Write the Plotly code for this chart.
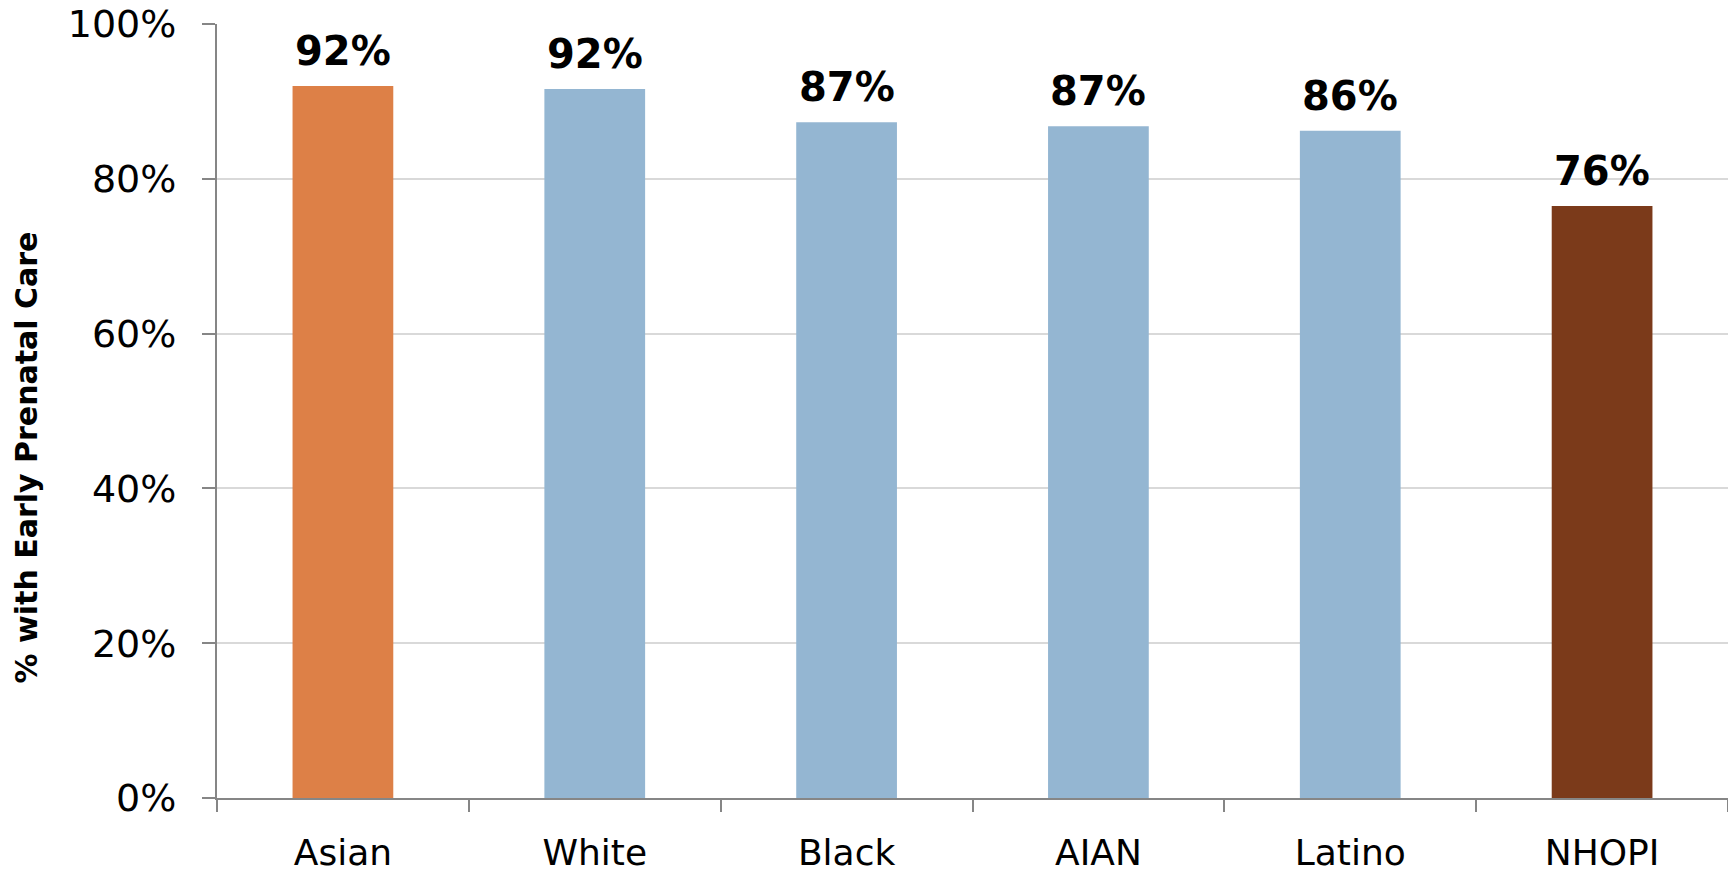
import plotly.graph_objects as go

categories = ["Asian", "White", "Black", "AIAN", "Latino", "NHOPI"]
values = [92.0, 91.6, 87.3, 86.8, 86.2, 76.5]
labels = ["92%", "92%", "87%", "87%", "86%", "76%"]
colors = ["#DD8047", "#94B6D2", "#94B6D2", "#94B6D2", "#94B6D2", "#7B3A1A"]
y_ticks = [0, 20, 40, 60, 80, 100]
y_ticktext = ["0%", "20%", "40%", "60%", "80%", "100%"]
y_title = "% with Early Prenatal Care"

font_family = "'DejaVu Sans', sans-serif"

fig = go.Figure()
fig.add_trace(go.Bar(
    x=categories, y=values,
    marker=dict(color=colors, line=dict(width=0)),
    hoverinfo="skip",
))

for c, v, t in zip(categories, values, labels):
    fig.add_annotation(
        x=c, y=v, text="<b>" + t + "</b>", showarrow=False,
        yanchor="bottom", yshift=10,
        font=dict(family=font_family, size=40, color="#000000"),
    )

fig.add_annotation(
    xref="paper", yref="paper", x=0, y=0.44, xshift=-191,
    xanchor="center", yanchor="middle", textangle=-90,
    text="<b>" + y_title + "</b>", showarrow=False,
    font=dict(family=font_family, size=30, color="#000000"),
)

fig.update_layout(
    width=1728, height=875,
    margin=dict(l=217, r=0, t=24, b=77, autoexpand=False),
    paper_bgcolor="white", plot_bgcolor="white",
    bargap=0.6,
    showlegend=False,
    font=dict(family=font_family, color="#000000"),
)
fig.update_xaxes(
    type="category", automargin=False,
    showline=True, linecolor="#868686", linewidth=2,
    ticks="outside", tickson="boundaries", ticklen=12, tickcolor="#868686", tickwidth=2,
    tickfont=dict(family=font_family, size=36, color="#000000"),
    ticklabelstandoff=22, ticklabeloverflow="allow",
    showgrid=False,
)
fig.update_yaxes(
    range=[0, 100], automargin=False,
    tickvals=y_ticks, ticktext=y_ticktext,
    showline=True, linecolor="#868686", linewidth=2,
    ticks="outside", ticklen=13, tickcolor="#868686", tickwidth=2,
    tickfont=dict(family=font_family, size=38, color="#000000"),
    ticklabelstandoff=18, ticklabeloverflow="allow",
    showgrid=True, gridcolor="#D9D9D9", gridwidth=2,
    zeroline=False,
)

# remove the page's default 8px body margin so the figure fills the window exactly
fig.write_html(
    "out.html",
    config={"displayModeBar": False},
    post_script="document.body.style.margin='0';document.body.style.overflow='hidden';",
)
